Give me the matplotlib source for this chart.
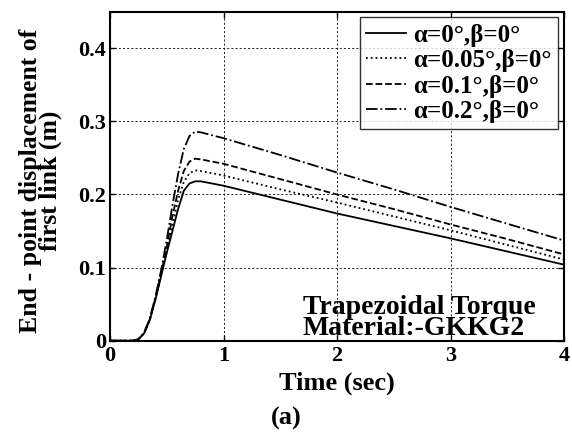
import matplotlib
matplotlib.use("Agg")
import matplotlib.pyplot as plt
import numpy as np

# Time samples (s) and end-point displacement of the first link (m)
time_s = [0, 0.2, 0.25, 0.3, 0.35, 0.4, 0.45, 0.5, 0.55, 0.6, 0.65, 0.7,
          0.75, 0.8, 1.0, 1.5, 2.0, 2.5, 3.0, 3.5, 4.0]
disp_a0 = [0, 0, 0.002, 0.010, 0.028, 0.056, 0.088, 0.120, 0.150, 0.180,
           0.205, 0.215, 0.218, 0.218, 0.212, 0.193, 0.174, 0.157, 0.140,
           0.122, 0.104]
disp_a005 = [0, 0, 0.002, 0.010, 0.028, 0.057, 0.090, 0.123, 0.157, 0.193,
             0.217, 0.229, 0.233, 0.232, 0.226, 0.207, 0.189, 0.170, 0.151,
             0.131, 0.111]
disp_a01 = [0, 0, 0.002, 0.010, 0.029, 0.058, 0.092, 0.128, 0.170, 0.205,
            0.232, 0.245, 0.249, 0.248, 0.242, 0.221, 0.200, 0.180, 0.159,
            0.139, 0.118]
disp_a02 = [0, 0, 0.002, 0.011, 0.030, 0.060, 0.096, 0.138, 0.185, 0.228,
            0.262, 0.280, 0.286, 0.285, 0.277, 0.254, 0.230, 0.207, 0.183,
            0.160, 0.137]

labels = ["α=0°,β=0°", "α=0.05°,β=0°", "α=0.1°,β=0°", "α=0.2°,β=0°"]
styles = ["-", ":", "--", "-."]
x_ticks = [0, 1, 2, 3, 4]
y_ticks = [0, 0.1, 0.2, 0.3, 0.4]
y_tick_labels = ["0", "0.1", "0.2", "0.3", "0.4"]

plt.rcParams["font.family"] = ["Liberation Serif", "DejaVu Serif"]
plt.rcParams["font.weight"] = "bold"

W, H = 572, 432
fig = plt.figure(figsize=(W / 100, H / 100), dpi=100)
ax = fig.add_axes([110 / W, 1 - 340.7 / H, (564 - 110) / W, (340.7 - 11.7) / H])

for y, ls, lab in zip([disp_a0, disp_a005, disp_a01, disp_a02], styles, labels):
    ax.plot(time_s, y, ls, color="black", lw=1.3, label=lab)

ax.set_xlim(0, 4)
ax.set_ylim(0, 0.45)
ax.set_xticks(x_ticks)
ax.set_yticks(y_ticks)
ax.set_yticklabels(y_tick_labels)
ax.tick_params(direction="in", length=4, width=1, labelsize=16, top=True,
               right=True)
ax.tick_params(axis="y", pad=3)
ax.tick_params(axis="x", pad=4)
ax.grid(True, color="black", linestyle=(0, (2.5, 2.5)), linewidth=0.6)
for s in ax.spines.values():
    s.set_linewidth(1.5)

ax.set_xlabel("Time (sec)", fontsize=19, fontweight="bold", labelpad=4)
ax.set_ylabel("End - point displacement of\nfirst link (m)", fontsize=18.5,
              fontweight="bold", linespacing=0.8)
ax.yaxis.set_label_coords(-0.106, 0.487)

leg = ax.legend(loc="upper right", bbox_to_anchor=(558 / W, 1 - 17.3 / H),
                bbox_transform=fig.transFigure,
                fontsize=18, frameon=True, fancybox=False, edgecolor="black",
                handlelength=1.6, handletextpad=0.3, borderpad=0.25,
                labelspacing=0.1, borderaxespad=0.0)
leg.get_frame().set_linewidth(1.0)

ax.text(0.425, 0.017, "Trapezoidal Torque\nMaterial:-GKKG2",
        transform=ax.transAxes, fontsize=20, fontweight="bold",
        ha="left", va="baseline", linespacing=0.78)

fig.text(0.5, 1 - 418 / H, "(a)", fontsize=19,
         fontweight="bold", ha="center", va="center")

fig.savefig("out.png", dpi=100)
